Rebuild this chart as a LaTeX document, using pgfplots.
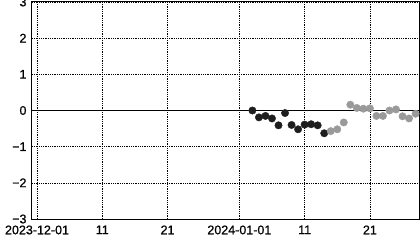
\documentclass[border=0pt]{standalone}
\usepackage{pgfplots}
\pgfplotsset{compat=1.18}
\usepackage{fontspec}
\setmainfont{Liberation Sans}
\newfontfamily\tickfont[FakeBold=0.8]{Liberation Sans}
\definecolor{darkpt}{HTML}{1E1E1E}
\definecolor{graypt}{HTML}{9A9A9A}
\begin{document}
\begin{tikzpicture}
\begin{axis}[
  scale only axis,
  width=387.5pt, height=217pt,
  xmin=-0.77, xmax=58.6,
  ymin=-3, ymax=3,
  xtick={0,10,20,31,41,51},
  xticklabels={2023-12-01,11,21,2024-01-01,11,21},
  ytick={-3,-2,-1,0,1,2,3},
  yticklabels={−3,−2,−1,0,1,2,3},
  /pgf/number format/assume math mode=true,
  ticklabel style={font=\tickfont\fontsize{12.5}{13}\selectfont},
  major tick length=0pt,
  grid=major,
  major grid style={black, line width=0.6pt, dash pattern=on 0.9pt off 0.9pt},
  axis line style={black, line width=1pt},
  yticklabel style={xshift=-2pt},
  xticklabel style={yshift=-3pt},
  clip=false,
]
\addplot[black, line width=0.9pt] coordinates {(-0.77,0) (58.6,0)};
\addplot[only marks, mark=*, mark size=3.7pt, mark options={fill=darkpt, draw=darkpt}] coordinates {
(33,0.00) (34,-0.19) (35,-0.15) (36,-0.22) (37,-0.41) (38,-0.07) (39,-0.40)
(40,-0.52) (41,-0.39) (42,-0.38) (43,-0.41) (44,-0.63)
};
\addplot[only marks, mark=*, mark size=3.7pt, mark options={fill=graypt, draw=graypt}] coordinates {
(45,-0.57) (46,-0.52) (47,-0.33) (48,0.16) (49,0.07) (50,0.05) (51,0.06)
(52,-0.15) (53,-0.15) (54,0.00) (55,0.03) (56,-0.16) (57,-0.22) (58,-0.09)
};
\end{axis}
\pgfresetboundingbox
\path (current axis.south west) ++(-32pt,-30pt) rectangle ++(420pt,249pt);
\end{tikzpicture}
\end{document}
